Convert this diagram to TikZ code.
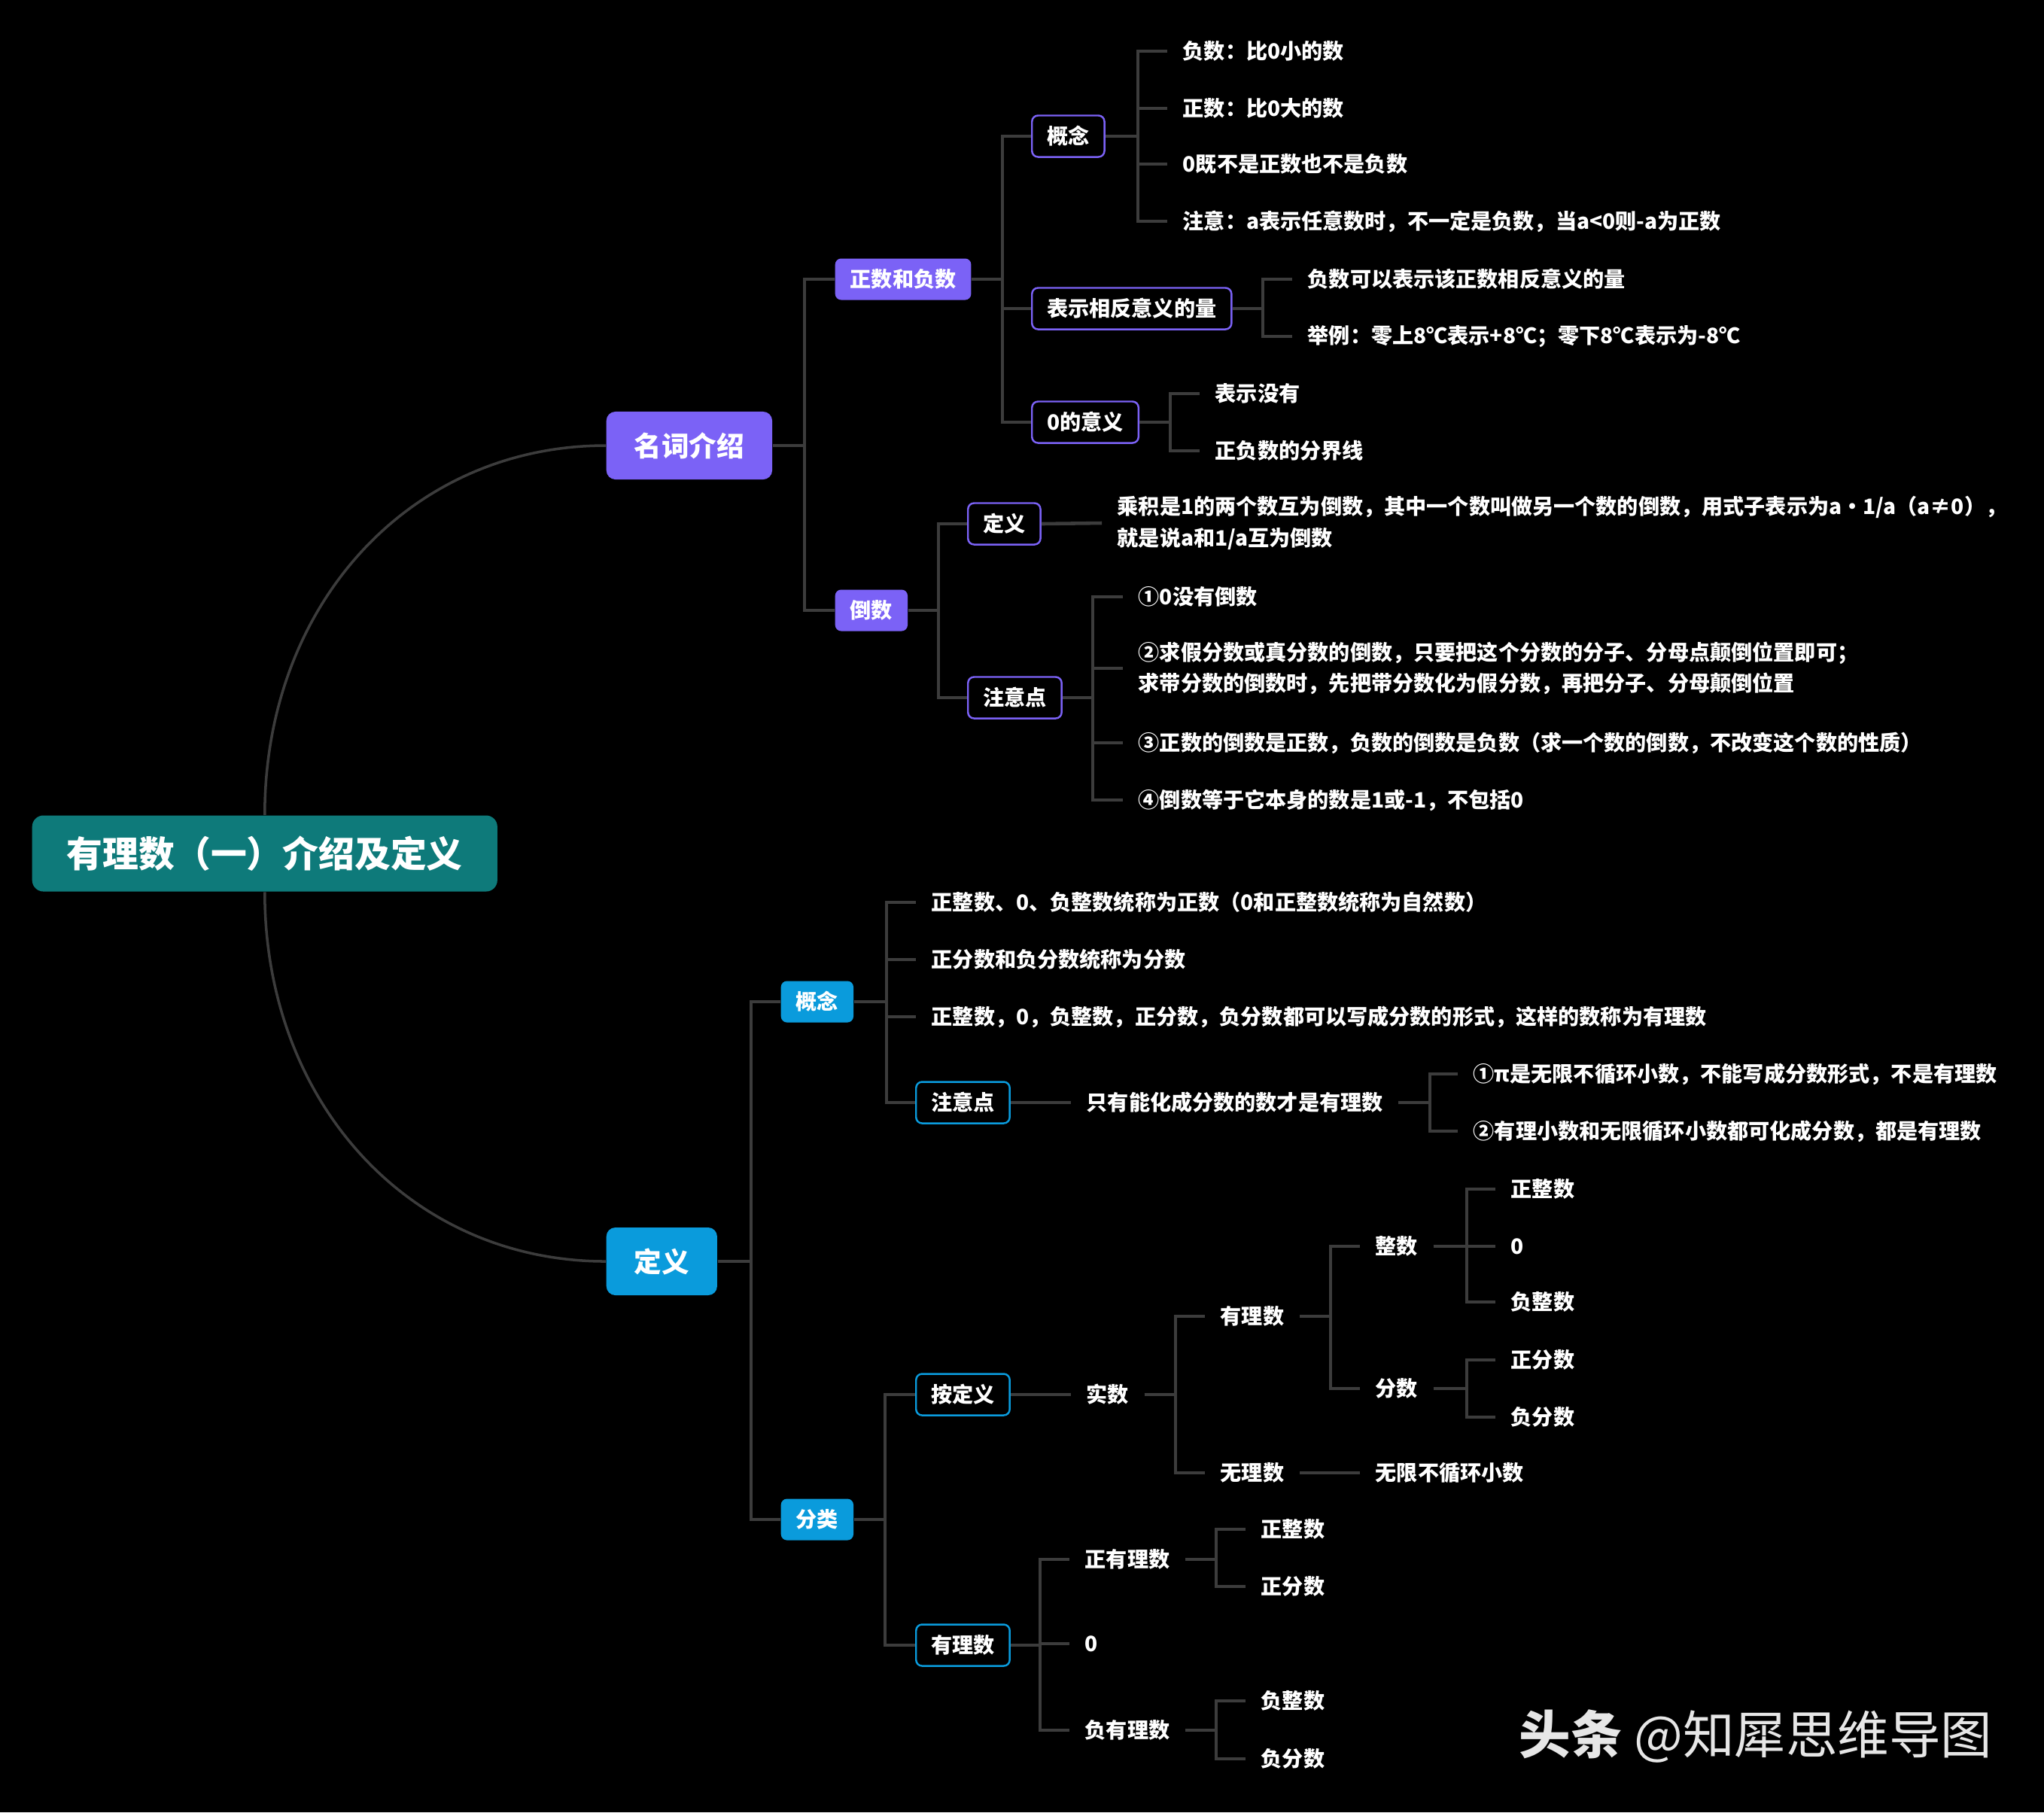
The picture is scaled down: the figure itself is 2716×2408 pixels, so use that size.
\documentclass[tikz,border=0pt]{standalone}
\usepackage{fontspec}
\setmainfont{Noto Sans CJK SC}
\definecolor{rootteal}{HTML}{0E7A7A}
\definecolor{purp}{HTML}{7B62F6}
\definecolor{blu}{HTML}{0A9BDC}
\definecolor{linkgray}{HTML}{3C3C3C}
\definecolor{wmgray}{HTML}{E6E6E6}

\tikzset{
  rootbox/.style={fill=rootteal, rounded corners=0.15cm, text=white,
    font=\fontsize{13.6}{16}\selectfont\bfseries, inner xsep=0.46cm, inner ysep=0pt, minimum height=1.01cm},
  topbox/.style={fill=#1, rounded corners=0.12cm, text=white,
    font=\fontsize{10.4}{12}\selectfont\bfseries, inner xsep=0.37cm, inner ysep=0pt, minimum height=0.9cm},
  subbox/.style={fill=#1, rounded corners=0.08cm, text=white,
    font=\fontsize{8}{10}\selectfont\bfseries, inner xsep=0.2cm, inner ysep=0pt, minimum height=0.55cm},
  linebox/.style={draw=#1, fill=black, line width=0.7pt, rounded corners=0.08cm, text=white,
    font=\fontsize{8}{10}\selectfont\bfseries, inner xsep=0.2cm, inner ysep=0pt, minimum height=0.55cm},
  leaf/.style={text=white, font=\fontsize{8}{11.8}\selectfont\bfseries, inner xsep=0.2cm, inner ysep=1pt, align=left},
  link/.style={draw=linkgray, line width=1.3pt},
  curve/.style={draw=linkgray, line width=1pt},
  wmark/.style={text=wmgray, font=\fontsize{19.5}{22}\selectfont, inner sep=0pt}
}

\begin{document}
\begin{tikzpicture}[x=0.01cm, y=-0.01cm]
\fill[black] (0,0) rectangle (2716,2408);
\useasboundingbox (0,0) rectangle (2716,2408);

% Root and first level
\node[rootbox, anchor=west] (root) at (42,1134) {有理数（一）介绍及定义};
\node[topbox=purp, anchor=west] (mcjs) at (805,592) {名词介绍};
\node[topbox=blu, anchor=west] (dy) at (805,1676) {定义};

\draw[curve] (root.north) .. controls +(0,-280) and +(-260,0) .. (mcjs.west);
\draw[curve] (root.south) .. controls +(0,280) and +(-260,0) .. (dy.west);

% Bus lines
\coordinate (b0) at (1069,0);
\coordinate (bzf) at (1332,0);
\coordinate (bgn1) at (1512,0);
\coordinate (bxf) at (1678,0);
\coordinate (bly) at (1555,0);
\coordinate (bds) at (1247,0);
\coordinate (bzy1) at (1452,0);
\coordinate (bdy) at (998,0);
\coordinate (bgn2) at (1178,0);
\coordinate (bzy2) at (1900,0);
\coordinate (bfl) at (1176,0);
\coordinate (bss) at (1562,0);
\coordinate (bylx) at (1768,0);
\coordinate (bzs) at (1949,0);
\coordinate (byl) at (1382,0);
\coordinate (bzyl) at (1616,0);

% Name intro branch
\node[subbox=purp, anchor=west] (zf) at (1109,371) {正数和负数};
\node[subbox=purp, anchor=west] (ds) at (1109,811) {倒数};

\node[linebox=purp, anchor=west] (gn1) at (1370,181) {概念};
\node[linebox=purp, anchor=west] (xf) at (1370,410) {表示相反意义的量};
\node[linebox=purp, anchor=west] (ly) at (1370,561) {0的意义};

\node[leaf, anchor=west] (gn1a) at (1551,68) {负数：比0小的数};
\node[leaf, anchor=west] (gn1b) at (1551,144) {正数：比0大的数};
\node[leaf, anchor=west] (gn1c) at (1551,218) {0既不是正数也不是负数};
\node[leaf, anchor=west] (gn1d) at (1551,294) {注意：a表示任意数时，不一定是负数，当a<0则-a为正数};

\node[leaf, anchor=west] (xfa) at (1717,371) {负数可以表示该正数相反意义的量};
\node[leaf, anchor=west] (xfb) at (1717,447) {举例：零上8℃表示+8℃；零下8℃表示为-8℃};

\node[leaf, anchor=west] (lya) at (1594,523) {表示没有};
\node[leaf, anchor=west] (lyb) at (1594,599) {正负数的分界线};

\node[linebox=purp, anchor=west] (dy1) at (1285,696) {定义};
\node[linebox=purp, anchor=west] (zy1) at (1285,927) {注意点};

\node[leaf, anchor=west] (dy1a) at (1464,695) {乘积是1的两个数互为倒数，其中一个数叫做另一个数的倒数，用式子表示为a·1/a（a≠0），\\就是说a和1/a互为倒数};

\node[leaf, anchor=west] (zy1a) at (1492,793) {①0没有倒数};
\node[leaf, anchor=west] (zy1b) at (1492,888) {②求假分数或真分数的倒数，只要把这个分数的分子、分母点颠倒位置即可；\\求带分数的倒数时，先把带分数化为假分数，再把分子、分母颠倒位置};
\node[leaf, anchor=west] (zy1c) at (1492,987) {③正数的倒数是正数，负数的倒数是负数（求一个数的倒数，不改变这个数的性质）};
\node[leaf, anchor=west] (zy1d) at (1492,1063) {④倒数等于它本身的数是1或-1，不包括0};

\foreach \c in {zf,ds} \draw[link] (mcjs.east) -- (b0 |- mcjs.east) |- (\c.west);
\foreach \c in {gn1,xf,ly} \draw[link] (zf.east) -- (bzf |- zf.east) |- (\c.west);
\foreach \c in {gn1a,gn1b,gn1c,gn1d} \draw[link] (gn1.east) -- (bgn1 |- gn1.east) |- (\c.west);
\foreach \c in {xfa,xfb} \draw[link] (xf.east) -- (bxf |- xf.east) |- (\c.west);
\foreach \c in {lya,lyb} \draw[link] (ly.east) -- (bly |- ly.east) |- (\c.west);
\foreach \c in {dy1,zy1} \draw[link] (ds.east) -- (bds |- ds.east) |- (\c.west);
\draw[link] (dy1.east) -- (dy1a.west);
\foreach \c in {zy1a,zy1b,zy1c,zy1d} \draw[link] (zy1.east) -- (bzy1 |- zy1.east) |- (\c.west);

% Definition branch
\node[subbox=blu, anchor=west] (gn2) at (1037,1331) {概念};
\node[subbox=blu, anchor=west] (fl) at (1037,2019) {分类};

\node[leaf, anchor=west] (gn2a) at (1217,1199) {正整数、0、负整数统称为正数（0和正整数统称为自然数）};
\node[leaf, anchor=west] (gn2b) at (1217,1275) {正分数和负分数统称为分数};
\node[leaf, anchor=west] (gn2c) at (1217,1351) {正整数，0，负整数，正分数，负分数都可以写成分数的形式，这样的数称为有理数};
\node[linebox=blu, anchor=west] (zy2) at (1216,1465) {注意点};
\node[leaf, anchor=west] (zy2a) at (1423,1465) {只有能化成分数的数才是有理数};
\node[leaf, anchor=west] (zy2b) at (1937,1427) {①π是无限不循环小数，不能写成分数形式，不是有理数};
\node[leaf, anchor=west] (zy2c) at (1937,1503) {②有理小数和无限循环小数都可化成分数，都是有理数};

\node[linebox=blu, anchor=west] (ad) at (1216,1853) {按定义};
\node[linebox=blu, anchor=west] (yl) at (1216,2186) {有理数};

\node[leaf, anchor=west] (ss) at (1423,1853) {实数};
\node[leaf, anchor=west] (ylx) at (1601,1749) {有理数};
\node[leaf, anchor=west] (wl) at (1601,1957) {无理数};
\node[leaf, anchor=west] (zs) at (1807,1656) {整数};
\node[leaf, anchor=west] (fs) at (1807,1845) {分数};
\node[leaf, anchor=west] (wlx) at (1807,1957) {无限不循环小数};
\node[leaf, anchor=west] (zsa) at (1987,1580) {正整数};
\node[leaf, anchor=west] (zsb) at (1987,1656) {0};
\node[leaf, anchor=west] (zsc) at (1987,1730) {负整数};
\node[leaf, anchor=west] (fsa) at (1987,1807) {正分数};
\node[leaf, anchor=west] (fsb) at (1987,1883) {负分数};

\node[leaf, anchor=west] (zyl) at (1421,2072) {正有理数};
\node[leaf, anchor=west] (yl0) at (1421,2184) {0};
\node[leaf, anchor=west] (fyl) at (1421,2299) {负有理数};
\node[leaf, anchor=west] (zyla) at (1655,2032) {正整数};
\node[leaf, anchor=west] (zylb) at (1655,2108) {正分数};
\node[leaf, anchor=west] (fyla) at (1655,2260) {负整数};
\node[leaf, anchor=west] (fylb) at (1655,2337) {负分数};

\foreach \c in {gn2,fl} \draw[link] (dy.east) -- (bdy |- dy.east) |- (\c.west);
\foreach \c in {gn2a,gn2b,gn2c,zy2} \draw[link] (gn2.east) -- (bgn2 |- gn2.east) |- (\c.west);
\draw[link] (zy2.east) -- (zy2a.west);
\foreach \c in {zy2b,zy2c} \draw[link] (zy2a.east) -- (bzy2 |- zy2a.east) |- (\c.west);
\foreach \c in {ad,yl} \draw[link] (fl.east) -- (bfl |- fl.east) |- (\c.west);
\draw[link] (ad.east) -- (ss.west);
\foreach \c in {ylx,wl} \draw[link] (ss.east) -- (bss |- ss.east) |- (\c.west);
\foreach \c in {zs,fs} \draw[link] (ylx.east) -- (bylx |- ylx.east) |- (\c.west);
\draw[link] (wl.east) -- (wlx.west);
\foreach \c in {zsa,zsb,zsc} \draw[link] (zs.east) -- (bzs |- zs.east) |- (\c.west);
\foreach \c in {fsa,fsb} \draw[link] (fs.east) -- (bzs |- fs.east) |- (\c.west);
\foreach \c in {zyl,yl0,fyl} \draw[link] (yl.east) -- (byl |- yl.east) |- (\c.west);
\foreach \c in {zyla,zylb} \draw[link] (zyl.east) -- (bzyl |- zyl.east) |- (\c.west);
\foreach \c in {fyla,fylb} \draw[link] (fyl.east) -- (bzyl |- fyl.east) |- (\c.west);

% Watermark
\node[wmark, anchor=west] (wm) at (2018,2307) {{\bfseries 头条} @知犀思维导图};
\end{tikzpicture}
\end{document}
